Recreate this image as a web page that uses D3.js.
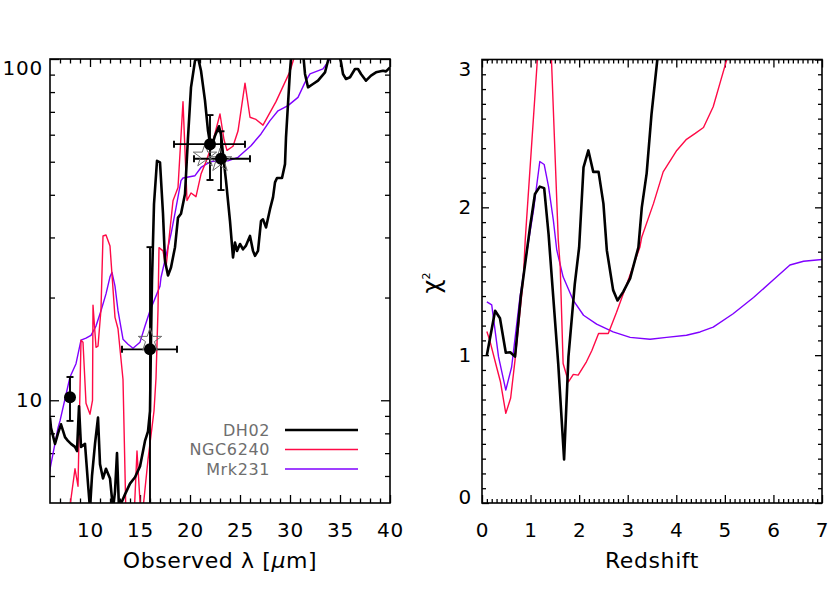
<!DOCTYPE html>
<html>
<head>
<meta charset="utf-8">
<script src="https://cdn.jsdelivr.net/npm/d3@7"></script>
<style>
  html, body { margin: 0; padding: 0; background: #fff; }
  svg { display: block; }
  text { font-family: "DejaVu Sans", sans-serif; }
</style>
</head>
<body>
<svg id="chart" width="830" height="593"></svg>
<script>
// ---------------- LEFT PANEL DATA (observed SED fits) ----------------
const dh02Lambda = [6.0,6.1,6.5,6.8,7.1,7.5,7.8,8.1,8.5,8.7,8.9,9.1,9.5,9.8,10.0,10.2,10.5,10.8,11.0,11.3,11.6,12.0,12.3,12.5,12.7,12.9,13.0,13.5,14.0,14.5,15.0,15.5,15.8,16.0,16.1,16.2,16.4,16.7,17.0,17.3,17.5,17.8,18.1,18.5,18.8,19.1,19.5,19.8,20.1,20.5,20.8,21.1,21.5,21.8,22.1,22.5,22.9,23.1,23.3,23.6,24.0,24.3,24.5,24.7,25.0,25.3,25.6,26.0,26.3,26.5,26.8,27.1,27.3,27.6,28.0,28.3,28.5,28.7,29.2,29.5,29.6,29.8,30.0,30.3,30.8,31.3,31.5,31.8,32.3,32.8,33.5,33.8,34.2,34.8,35.1,35.3,35.6,36.0,36.5,36.8,37.1,37.6,38.1,38.6,39.3,39.6,40.0];
const dh02Flux   = [8.9,8.3,7.45,8.0,8.5,7.8,7.6,7.45,7.3,7.1,9.6,7.3,7.45,5.7,4.8,6.0,7.45,8.9,6.5,5.9,6.3,5.9,4.8,5.4,7.0,4.8,4.9,5.3,5.7,5.95,6.4,7.6,8.1,9.3,15,22.5,37.6,50.3,49.8,35.2,25.6,23.2,24.5,28.1,34.3,35.2,40.2,58.9,82.6,98.8,101,92.4,75.5,61.6,54.4,59.6,63.5,60,52.6,44,33.5,26.2,29.0,27.4,28.7,27.7,28.4,30.3,27.4,26.5,27.4,33.5,33.9,32.1,36.3,39.3,43.5,44.8,44.8,49.2,58.9,73.8,92.4,115,125,105,90.4,82.6,84.5,86.4,91.4,98.8,108,106,98,90.4,87.4,88.4,93.5,93.5,90.4,86.4,89.4,91.4,92.4,92,94.5];

const ngcLambda = [8.0,8.5,8.8,9.1,9.3,9.6,10.0,10.25,10.3,10.6,10.8,11.1,11.3,11.6,12.0,12.5,12.8,13.3,13.6,14.4,14.7,15.1,15.3,15.8,16.4,16.6,16.8,16.9,17.3,17.6,18.3,18.8,19.3,19.7,20.1,20.6,21.1,21.6,22.0,22.4,23.0,23.4,23.7,24.3,24.8,25.5,26.0,26.6,27.3,28.6,30.0,30.8];
const ngcFlux   = [4.9,6.3,5.6,15.0,14.8,9.8,9.1,10.0,19.0,14.3,14.4,18.5,30.3,30.5,28.3,17.5,16.2,11.5,4.5,4.5,7.1,4.5,4.8,6.7,9.3,11.6,18.4,28,27.4,24.5,38.4,42,75,38.5,40.5,39.5,46,50,54,59,69,58,54,55.5,61.5,85,67.5,66.5,64,75,92,110];

const mrkLambda = [5.9,6.0,6.8,7.0,8.0,8.6,9.1,9.6,10.1,10.6,11.1,11.6,12.0,12.2,12.5,12.8,13.3,13.8,14.3,15.0,15.5,16.0,17.0,17.1,18.1,18.6,19.1,19.3,20.5,21.1,22.1,23.0,23.8,24.8,26.1,27.1,28.0,28.8,29.8,30.8,31.5,32.0,33.3,34.0,34.5];
const mrkFlux   = [6.0,6.28,8.3,8.7,11.7,12.8,15.0,15.2,15.5,16.5,18.3,20.5,23.0,23.7,21.6,18.3,15.1,14.6,14.2,14.8,16.5,18.3,21.6,22.9,30.7,36.6,44,44.8,45.5,48.1,50.1,50.3,50.3,51.5,55.7,60.3,66,70.5,73,77.2,85.4,90.4,93.5,100,104];

// photometry (filled circles with error bars)
const photLambda   = [8.0, 16.0, 22.0, 23.1];
const photFlux     = [10.2, 14.1, 56.3, 51.0];
const photFluxLo   = [8.7, 1.0, 44.2, 41.3];
const photFluxHi   = [11.7, 28.1, 68.5, 61.4];
const photLambdaLo = [8.0, 13.2, 18.4, 20.4];
const photLambdaHi = [8.0, 18.7, 25.5, 26.0];
// model photometry (open stars)
const starLambda = [16.0, 21.5, 23.0];
const starFlux   = [15.0, 52.0, 50.4];

const leftXTicks = [10, 15, 20, 25, 30, 35, 40];
const leftXMinor = [7,8,9,11,12,13,14,16,17,18,19,21,22,23,24,26,27,28,29,31,32,33,34,36,37,38,39];
const leftYTicks = [10, 100];
const leftYMinor = [6,7,8,9,20,30,40,50,60,70,80,90];

const legendNames = ["DH02", "NGC6240", "Mrk231"];

// ---------------- RIGHT PANEL DATA (chi^2 vs redshift) ----------------
const dh02Z   = [0.1,0.27,0.37,0.49,0.58,0.68,0.8,0.99,1.09,1.19,1.28,1.37,1.57,1.69,1.78,1.91,2.0,2.09,2.19,2.29,2.40,2.50,2.57,2.70,2.79,2.91,3.05,3.22,3.29,3.39,3.49,3.61,3.7];
const dh02Chi = [1.0,1.30,1.25,1.016,1.02,0.99,1.4,1.87,2.09,2.14,2.13,1.82,0.94,0.295,0.99,1.48,1.73,2.27,2.385,2.24,2.24,2.025,1.71,1.44,1.37,1.43,1.52,1.73,2.0,2.23,2.63,3.0,3.4];

const ngcZ   = [0.1,0.16,0.30,0.38,0.49,0.59,0.68,0.85,0.89,1.14,1.2,1.38,1.43,1.57,1.61,1.67,1.78,1.88,1.98,2.15,2.26,2.40,2.60,2.77,2.98,3.25,3.29,3.53,3.73,4.01,4.21,4.39,4.56,4.76,4.90,5.04,5.1];
const ngcChi = [1.16,1.10,0.92,0.82,0.606,0.71,0.966,1.51,1.78,3.0,3.3,3.3,3.0,1.78,1.60,0.944,0.82,0.87,0.865,0.955,1.03,1.147,1.147,1.29,1.48,1.73,1.80,2.025,2.24,2.385,2.46,2.50,2.54,2.68,2.84,3.0,3.1];

const mrkZ   = [0.1,0.2,0.34,0.49,0.61,0.78,0.92,1.06,1.19,1.28,1.37,1.47,1.54,1.67,1.88,2.09,2.36,2.70,3.05,3.46,3.80,4.21,4.49,4.76,5.17,5.59,6.0,6.34,6.62,7.0];
const mrkChi = [1.36,1.34,0.99,0.764,0.92,1.39,1.69,1.98,2.31,2.29,2.14,1.91,1.71,1.53,1.37,1.27,1.21,1.157,1.12,1.108,1.12,1.135,1.157,1.19,1.28,1.39,1.51,1.61,1.635,1.647];

const rightXTicks = [0,1,2,3,4,5,6,7];
const rightYTicks = [0,1,2,3];

// ---------------- STYLE ----------------
const colBlack = "#000000", colRed = "#ff0a46", colPurple = "#7f00ff";
const seriesColors = [colBlack, colRed, colPurple];
const seriesWidths = [2.6, 1.4, 1.4];

const svg = d3.select("#chart");

function styleAxis(g, fontSize) {
  g.select(".domain").remove();
  g.selectAll(".tick line").attr("stroke", "#000").attr("stroke-width", 1.3);
  g.selectAll(".tick text").attr("fill", "#000").attr("font-size", fontSize)
    .attr("font-family", "DejaVu Sans, sans-serif").attr("letter-spacing", "0.8px");
}

function drawFrame(x0, y0, x1, y1) {
  svg.append("rect").attr("x", x0).attr("y", y0).attr("width", x1 - x0).attr("height", y1 - y0)
    .attr("fill", "none").attr("stroke", "#000").attr("stroke-width", 1.6);
}

// ================= LEFT PANEL =================
const L = { x0: 50, x1: 390, y0: 59, y1: 503 };
const xL = d3.scaleLinear().domain([6, 40]).range([L.x0, L.x1]);
const yL = d3.scaleLog().domain([5, 100]).range([L.y1, L.y0]);

svg.append("clipPath").attr("id", "clipL").append("rect")
  .attr("x", L.x0).attr("y", L.y0).attr("width", L.x1 - L.x0).attr("height", L.y1 - L.y0);

let g;
g = svg.append("g").attr("transform", `translate(0,${L.y1})`)
  .call(d3.axisBottom(xL).tickValues(leftXTicks).tickFormat(d3.format("d")).tickSizeInner(-8).tickSizeOuter(0).tickPadding(20));
styleAxis(g, 20);
g = svg.append("g").attr("transform", `translate(0,${L.y1})`)
  .call(d3.axisBottom(xL).tickValues(leftXMinor).tickFormat("").tickSizeInner(-4.5).tickSizeOuter(0));
styleAxis(g, 20);
g = svg.append("g").attr("transform", `translate(0,${L.y0})`)
  .call(d3.axisTop(xL).tickValues(leftXTicks).tickFormat("").tickSizeInner(-8).tickSizeOuter(0));
styleAxis(g, 20);
g = svg.append("g").attr("transform", `translate(0,${L.y0})`)
  .call(d3.axisTop(xL).tickValues(leftXMinor).tickFormat("").tickSizeInner(-4.5).tickSizeOuter(0));
styleAxis(g, 20);

g = svg.append("g").attr("transform", `translate(${L.x0},0)`)
  .call(d3.axisLeft(yL).tickValues(leftYTicks).tickFormat(d3.format("d")).tickSizeInner(-9).tickSizeOuter(0).tickPadding(7));
styleAxis(g, 20);
g.selectAll(".tick text").filter(d => d === 100).attr("dy", "0.78em");
g = svg.append("g").attr("transform", `translate(${L.x0},0)`)
  .call(d3.axisLeft(yL).tickValues(leftYMinor).tickFormat("").tickSizeInner(-5).tickSizeOuter(0));
styleAxis(g, 20);
g = svg.append("g").attr("transform", `translate(${L.x1},0)`)
  .call(d3.axisRight(yL).tickValues(leftYTicks).tickFormat("").tickSizeInner(-9).tickSizeOuter(0));
styleAxis(g, 20);
g = svg.append("g").attr("transform", `translate(${L.x1},0)`)
  .call(d3.axisRight(yL).tickValues(leftYMinor).tickFormat("").tickSizeInner(-5).tickSizeOuter(0));
styleAxis(g, 20);

const leftSeries = [
  d3.zip(dh02Lambda, dh02Flux),
  d3.zip(ngcLambda, ngcFlux),
  d3.zip(mrkLambda, mrkFlux)
];
const lineL = d3.line().x(d => xL(d[0])).y(d => yL(d[1]));
const plotL = svg.append("g").attr("clip-path", "url(#clipL)");
[2, 1, 0].forEach(i => {
  plotL.append("path").datum(leftSeries[i])
    .attr("d", lineL).attr("fill", "none")
    .attr("stroke", seriesColors[i]).attr("stroke-width", seriesWidths[i])
    .attr("stroke-linejoin", "round");
});

// photometry error bars and points
const phot = photLambda.map((l, i) => ({
  l, f: photFlux[i], flo: photFluxLo[i], fhi: photFluxHi[i], llo: photLambdaLo[i], lhi: photLambdaHi[i]
}));
const eb = plotL.append("g").attr("stroke", "#000").attr("stroke-width", 1.9);
phot.forEach(p => {
  eb.append("line").attr("x1", xL(p.l)).attr("x2", xL(p.l)).attr("y1", yL(p.flo)).attr("y2", yL(p.fhi));
  eb.append("line").attr("x1", xL(p.l) - 3.5).attr("x2", xL(p.l) + 3.5).attr("y1", yL(p.fhi)).attr("y2", yL(p.fhi));
  eb.append("line").attr("x1", xL(p.l) - 3.5).attr("x2", xL(p.l) + 3.5).attr("y1", yL(p.flo)).attr("y2", yL(p.flo));
  if (p.lhi > p.llo) {
    eb.append("line").attr("x1", xL(p.llo)).attr("x2", xL(p.lhi)).attr("y1", yL(p.f)).attr("y2", yL(p.f));
    eb.append("line").attr("x1", xL(p.llo)).attr("x2", xL(p.llo)).attr("y1", yL(p.f) - 3.5).attr("y2", yL(p.f) + 3.5);
    eb.append("line").attr("x1", xL(p.lhi)).attr("x2", xL(p.lhi)).attr("y1", yL(p.f) - 3.5).attr("y2", yL(p.f) + 3.5);
  }
});

// model stars (open, grey)
const starSym = d3.symbol().type(d3.symbolStar).size(170);
plotL.selectAll("path.star").data(d3.zip(starLambda, starFlux)).enter().append("path")
  .attr("class", "star").attr("d", starSym)
  .attr("transform", d => `translate(${xL(d[0])},${yL(d[1])})`)
  .attr("fill", "none").attr("stroke", "#6a6a6a").attr("stroke-width", 1.0);

plotL.selectAll("circle.pt").data(phot).enter().append("circle")
  .attr("cx", d => xL(d.l)).attr("cy", d => yL(d.f)).attr("r", 6).attr("fill", "#000");

drawFrame(L.x0, L.y0, L.x1, L.y1);

// legend
const leg = svg.append("g");
legendNames.forEach((name, i) => {
  const y = 430 + i * 19.5;
  leg.append("text").attr("x", 270).attr("y", y).attr("dy", "0.36em")
    .attr("text-anchor", "end").attr("font-size", 16).attr("fill", "#6e6e6e")
    .attr("letter-spacing", "0.6px").text(name);
  leg.append("line").attr("x1", 285).attr("x2", 358).attr("y1", y).attr("y2", y)
    .attr("stroke", seriesColors[i]).attr("stroke-width", seriesWidths[i]);
});

const tL = svg.append("text").attr("x", 220).attr("y", 568).attr("text-anchor", "middle")
  .attr("font-size", 22).attr("fill", "#000").attr("letter-spacing", "0.6px");
tL.append("tspan").text("Observed ");
tL.append("tspan").text("λ");
tL.append("tspan").text(" [");
tL.append("tspan").attr("font-style", "italic").text("μ");
tL.append("tspan").text("m]");

// ================= RIGHT PANEL =================
const R = { x0: 482, x1: 822, y0: 59.5, y1: 503 };
const xR = d3.scaleLinear().domain([0, 7]).range([R.x0, R.x1]);
const yR = d3.scaleLinear().domain([0, 3]).range([R.y1, R.y0]);
const rightXMinor = d3.range(0, 70).map(i => i / 10).filter(v => Math.abs(v - Math.round(v)) > 1e-6);
const rightYMinor = d3.range(0, 30).map(i => i / 10).filter(v => Math.abs(v - Math.round(v)) > 1e-6);

svg.append("clipPath").attr("id", "clipR").append("rect")
  .attr("x", R.x0).attr("y", R.y0).attr("width", R.x1 - R.x0).attr("height", R.y1 - R.y0);

g = svg.append("g").attr("transform", `translate(0,${R.y1})`)
  .call(d3.axisBottom(xR).tickValues(rightXTicks).tickFormat(d3.format("d")).tickSizeInner(-8).tickSizeOuter(0).tickPadding(20));
styleAxis(g, 20);
g = svg.append("g").attr("transform", `translate(0,${R.y1})`)
  .call(d3.axisBottom(xR).tickValues(rightXMinor).tickFormat("").tickSizeInner(-4).tickSizeOuter(0));
styleAxis(g, 20);
g = svg.append("g").attr("transform", `translate(0,${R.y0})`)
  .call(d3.axisTop(xR).tickValues(rightXTicks).tickFormat("").tickSizeInner(-8).tickSizeOuter(0));
styleAxis(g, 20);
g = svg.append("g").attr("transform", `translate(0,${R.y0})`)
  .call(d3.axisTop(xR).tickValues(rightXMinor).tickFormat("").tickSizeInner(-4).tickSizeOuter(0));
styleAxis(g, 20);

g = svg.append("g").attr("transform", `translate(${R.x0},0)`)
  .call(d3.axisLeft(yR).tickValues(rightYTicks).tickFormat(d3.format("d")).tickSizeInner(-7).tickSizeOuter(0).tickPadding(10));
styleAxis(g, 20);
g.selectAll(".tick text").filter(d => d === 3).attr("dy", "0.82em");
g.selectAll(".tick text").filter(d => d === 0).attr("dy", "0.02em");
g = svg.append("g").attr("transform", `translate(${R.x0},0)`)
  .call(d3.axisLeft(yR).tickValues(rightYMinor).tickFormat("").tickSizeInner(-4).tickSizeOuter(0));
styleAxis(g, 20);
g = svg.append("g").attr("transform", `translate(${R.x1},0)`)
  .call(d3.axisRight(yR).tickValues(rightYTicks).tickFormat("").tickSizeInner(-7).tickSizeOuter(0));
styleAxis(g, 20);
g = svg.append("g").attr("transform", `translate(${R.x1},0)`)
  .call(d3.axisRight(yR).tickValues(rightYMinor).tickFormat("").tickSizeInner(-4).tickSizeOuter(0));
styleAxis(g, 20);

const rightSeries = [
  d3.zip(dh02Z, dh02Chi),
  d3.zip(ngcZ, ngcChi),
  d3.zip(mrkZ, mrkChi)
];
const lineR = d3.line().x(d => xR(d[0])).y(d => yR(d[1]));
const plotR = svg.append("g").attr("clip-path", "url(#clipR)");
[2, 1, 0].forEach(i => {
  plotR.append("path").datum(rightSeries[i])
    .attr("d", lineR).attr("fill", "none")
    .attr("stroke", seriesColors[i]).attr("stroke-width", seriesWidths[i])
    .attr("stroke-linejoin", "round");
});

drawFrame(R.x0, R.y0, R.x1, R.y1);

svg.append("text").attr("x", 652).attr("y", 568).attr("text-anchor", "middle")
  .attr("font-size", 22).attr("fill", "#000").attr("letter-spacing", "0.6px").text("Redshift");

const yt = svg.append("text").attr("transform", "translate(440,283) rotate(-90)")
  .attr("text-anchor", "middle").attr("font-size", 24).attr("fill", "#000");
yt.append("tspan").text("χ");
yt.append("tspan").attr("font-size", 11).attr("dy", "-0.9em").text("2");
</script>
</body>
</html>
